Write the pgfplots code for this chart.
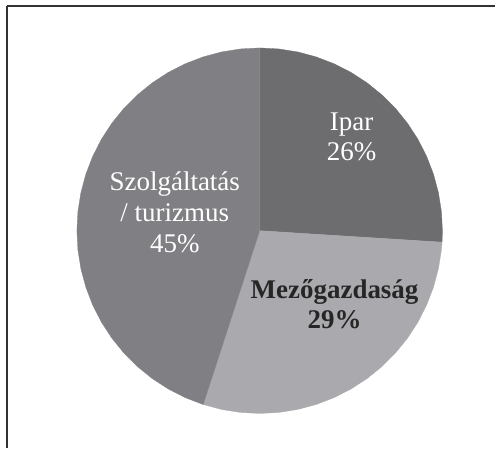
\documentclass[border=0pt]{standalone}
\usepackage{pgfplots}
\pgfplotsset{compat=1.18}
\usepackage{fontspec}
\setmainfont{Liberation Serif}
\definecolor{cIpar}{RGB}{109,109,112}
\definecolor{cMezo}{RGB}{170,170,174}
\definecolor{cSzol}{RGB}{128,128,132}
\definecolor{frame}{RGB}{50,50,50}
\begin{document}
\begin{tikzpicture}
\begin{axis}[
  scale only axis,
  width=489pt, height=443pt,
  xmin=-253, xmax=236, ymin=-218, ymax=225,
  axis x line*=top, axis y line*=left,
  xtick=\empty, ytick=\empty,
  axis line style={line width=1.3pt, color=frame},
  clip=false,
]
% Ipar 26%
\addplot[fill=cIpar, draw=cIpar, line width=0.3pt, data cs=polar] coordinates {
 (0,0) (90,183) (84,183) (78,183) (72,183) (66,183) (60,183) (54,183) (48,183) (42,183)
 (36,183) (30,183) (24,183) (18,183) (12,183) (6,183) (0,183) (-3.6,183)} --cycle;
% Mezogazdasag 29%
\addplot[fill=cMezo, draw=cMezo, line width=0.3pt, data cs=polar] coordinates {
 (0,0) (-3.6,183) (-6,183) (-12,183) (-18,183) (-24,183) (-30,183) (-36,183) (-42,183)
 (-48,183) (-54,183) (-60,183) (-66,183) (-72,183) (-78,183) (-84,183) (-90,183)
 (-96,183) (-102,183) (-108,183)} --cycle;
% Szolgaltatas / turizmus 45%
\addplot[fill=cSzol, draw=cSzol, line width=0.3pt, data cs=polar] coordinates {
 (0,0) (-108,183) (-114,183) (-120,183) (-126,183) (-132,183) (-138,183) (-144,183)
 (-150,183) (-156,183) (-162,183) (-168,183) (-174,183) (-180,183) (-186,183) (-192,183)
 (-198,183) (-204,183) (-210,183) (-216,183) (-222,183) (-228,183) (-234,183) (-240,183)
 (-246,183) (-252,183) (-258,183) (-264,183) (-270,183)} --cycle;
\node[align=center, text=white, font=\fontsize{27}{30}\selectfont] at (axis cs:92,94) {Ipar\\26\%};
\node[align=center, text=black!85, font=\fontsize{27}{30}\selectfont\bfseries] at (axis cs:75,-74) {Mezőgazdaság\\29\%};
\node[align=center, text=white, font=\fontsize{27}{31}\selectfont] at (axis cs:-85,18) {Szolgáltatás\\/ turizmus\\45\%};
\path (axis cs:-260,-218) rectangle (axis cs:236,231);
\end{axis}
\end{tikzpicture}
\end{document}
